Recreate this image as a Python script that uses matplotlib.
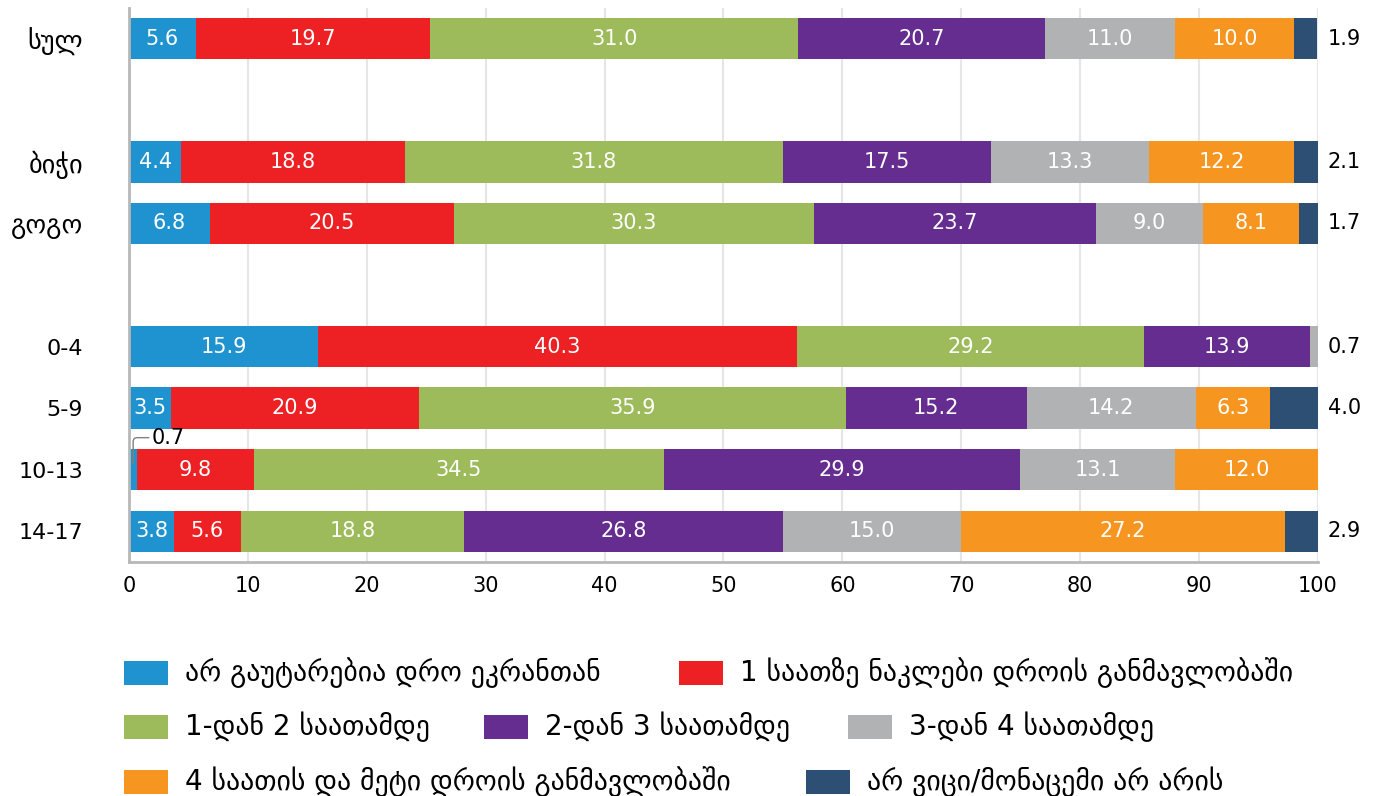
import matplotlib.pyplot as plt
import numpy as np
from matplotlib.patches import Rectangle

plt.rcParams['font.family'] = ['DejaVu Sans']

groups = ['სულ', 'ბიჭი', 'გოგო', '0-4', '5-9', '10-13', '14-17']
positions = [0, 2, 3, 5, 6, 7, 8]

categories = [
    'არ გაუტარებია დრო ეკრანთან',
    '1 საათზე ნაკლები დროის განმავლობაში',
    '1-დან 2 საათამდე',
    '2-დან 3 საათამდე',
    '3-დან 4 საათამდე',
    '4 საათის და მეტი დროის განმავლობაში',
    'არ ვიცი/მონაცემი არ არის',
]
colors = ['#1f93d0', '#ed2024', '#9dbb5a', '#652d8f', '#b0b2b4', '#f6951f', '#2e4f74']

# one list per category, ordered as groups
no_time = [5.6, 4.4, 6.8, 15.9, 3.5, 0.7, 3.8]
under_1h = [19.7, 18.8, 20.5, 40.3, 20.9, 9.8, 5.6]
h1_2 = [31.0, 31.8, 30.3, 29.2, 35.9, 34.5, 18.8]
h2_3 = [20.7, 17.5, 23.7, 13.9, 15.2, 29.9, 26.8]
h3_4 = [11.0, 13.3, 9.0, 0.7, 14.2, 13.1, 15.0]
h4_more = [10.0, 12.2, 8.1, 0.0, 6.3, 12.0, 27.2]
dont_know = [1.9, 2.1, 1.7, 0.0, 4.0, 0.0, 2.9]

series = [no_time, under_1h, h1_2, h2_3, h3_4, h4_more, dont_know]

W, H = 1373, 796
fig = plt.figure(figsize=(W / 100, H / 100), dpi=100)
ax = fig.add_axes([129 / W, 1 - 562 / H, 1189 / W, 554 / H])

left = np.zeros(len(groups))
for ci, (vals, col) in enumerate(zip(series, colors)):
    vals = np.array(vals)
    ax.barh(positions, vals, left=left, height=0.67, color=col, zorder=2)
    for gi, v in enumerate(vals):
        if v <= 0:
            continue
        y = positions[gi]
        is_last = all(series[k][gi] == 0 for k in range(ci + 1, len(series)))
        if ci == len(series) - 1 or (v < 1 and is_last):
            ax.text(100.8, y, f'{v:.1f}', ha='left', va='center',
                    fontsize=15, color='black', clip_on=False)
        elif v < 1:
            ax.annotate(f'{v:.1f}', xy=(left[gi] + v / 2, y - 0.1),
                        xytext=(1.9, y - 0.52), fontsize=15, va='center',
                        ha='left', color='black',
                        arrowprops=dict(arrowstyle='-', color='#808080', lw=1,
                                        connectionstyle='angle,angleA=0,angleB=90,rad=4',
                                        shrinkA=0, shrinkB=0))
        else:
            ax.text(left[gi] + v / 2, y, f'{v:.1f}', ha='center', va='center',
                    fontsize=15, color='white')
    left += vals

ax.set_xlim(0, 100)
ax.set_ylim(8.5, -0.5)
ax.set_xticks(range(0, 101, 10))
ax.set_yticks(positions)
ax.set_yticklabels(groups)
ax.tick_params(axis='y', length=0, pad=33)
ax.tick_params(axis='x', length=0, pad=10, labelsize=15)
for lbl in ax.get_yticklabels():
    lbl.set_horizontalalignment('right')
    lbl.set_fontsize(16 if lbl.get_text()[0].isdigit() else 19)
ax.grid(axis='x', color='#e6e6e6', lw=1.5, zorder=0)
ax.set_axisbelow(True)
for s in ['top', 'right']:
    ax.spines[s].set_visible(False)
for s in ['left', 'bottom']:
    ax.spines[s].set_color('#b8b8b8')
    ax.spines[s].set_linewidth(2)

# legend laid out in rows, left edge of each swatch in pixels
legend_rows = [(673, [(0, 124), (1, 679)]),
               (727, [(2, 124), (3, 484), (4, 848)]),
               (782, [(5, 124), (6, 806)])]
for ypx, items in legend_rows:
    for ci, xpx in items:
        fig.patches.append(Rectangle(((xpx) / W, 1 - (ypx + 12) / H), 44 / W, 24 / H,
                                     transform=fig.transFigure, facecolor=colors[ci],
                                     edgecolor='none'))
        fig.text((xpx + 61) / W, 1 - ypx / H, categories[ci], fontsize=20,
                 ha='left', va='center')

fig.savefig('out.png', dpi=100)
